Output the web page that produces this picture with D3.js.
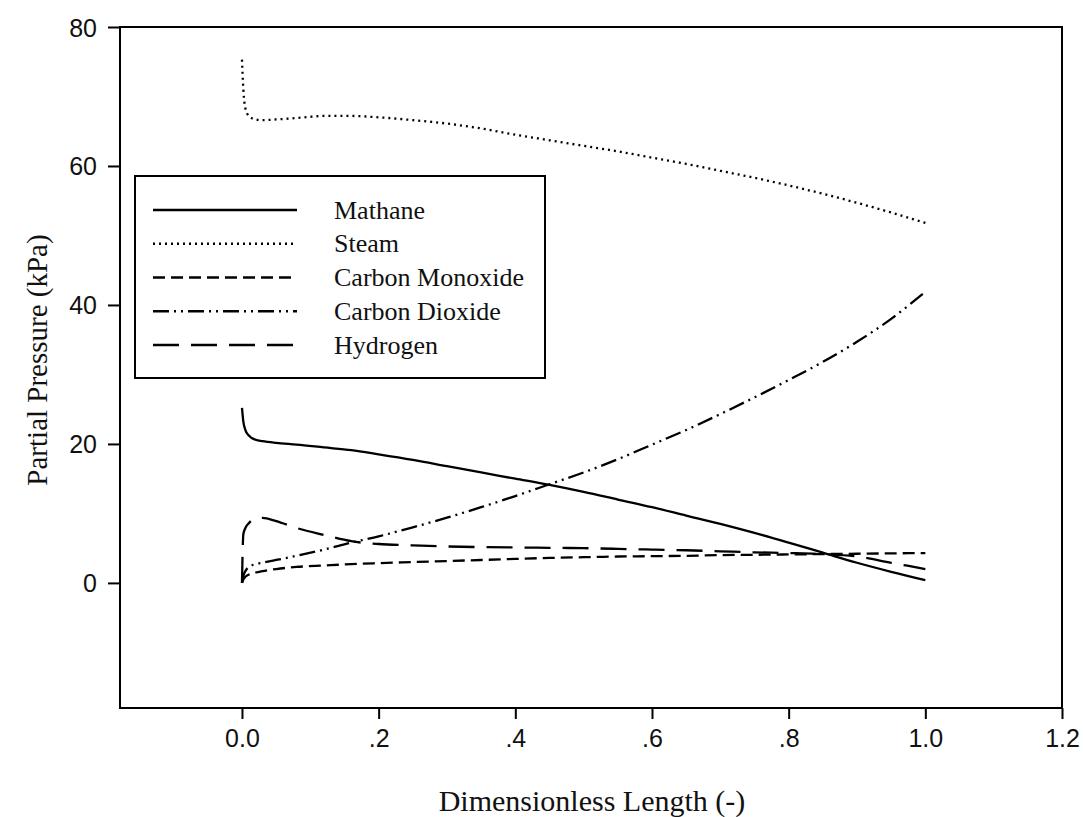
<!DOCTYPE html>
<html>
<head>
<meta charset="utf-8">
<script src="https://cdn.jsdelivr.net/npm/d3@7"></script>
<style>
  html, body { margin: 0; padding: 0; background: #fff; }
  svg { display: block; }
</style>
</head>
<body>
<svg id="chart" width="1083" height="817"></svg>
<script>
// Axial positions along the reactor (dimensionless)
const positions = [0, 0.002, 0.005, 0.01, 0.02, 0.03, 0.05, 0.08, 0.12, 0.16, 0.2, 0.25, 0.3, 0.35,
  0.4, 0.45, 0.5, 0.55, 0.6, 0.65, 0.7, 0.75, 0.8, 0.85, 0.9, 0.95, 1.0];

// Partial pressures (kPa) at each position
const methane = [25.2, 23.2, 22.0, 21.2, 20.6, 20.4, 20.15, 19.9, 19.5, 19.1, 18.5, 17.7, 16.8, 15.9,
  15.0, 14.1, 13.1, 12.0, 10.9, 9.7, 8.5, 7.2, 5.8, 4.35, 2.9, 1.6, 0.4];
const steam = [75.3, 71.0, 68.3, 67.2, 66.7, 66.6, 66.7, 66.9, 67.2, 67.2, 67.0, 66.6, 66.1, 65.4,
  64.5, 63.7, 62.9, 62.1, 61.2, 60.3, 59.3, 58.3, 57.2, 56.0, 54.7, 53.3, 51.8];
const carbonMonoxide = [0, 0.5, 0.9, 1.2, 1.5, 1.7, 2.0, 2.3, 2.5, 2.7, 2.85, 3.0, 3.15, 3.3,
  3.45, 3.6, 3.7, 3.8, 3.85, 3.9, 4.0, 4.05, 4.1, 4.15, 4.2, 4.25, 4.3];
const carbonDioxide = [0, 1.0, 1.7, 2.3, 2.7, 2.9, 3.3, 3.9, 4.8, 5.8, 6.7, 8.0, 9.4, 10.9,
  12.5, 14.2, 15.9, 17.8, 19.9, 22.0, 24.3, 26.7, 29.2, 31.8, 34.7, 38.0, 41.9];
const hydrogen = [0, 7.0, 7.9, 8.6, 9.3, 9.35, 8.9, 7.9, 6.9, 6.0, 5.6, 5.4, 5.25, 5.15,
  5.1, 5.05, 5.0, 4.9, 4.8, 4.7, 4.55, 4.4, 4.3, 4.15, 3.8, 2.9, 2.0];

const seriesNames = ["Mathane", "Steam", "Carbon Monoxide", "Carbon Dioxide", "Hydrogen"];
const seriesValues = [methane, steam, carbonMonoxide, carbonDioxide, hydrogen];
const seriesDash = [null, "2,4", "12,6", "16,5,2,5,2,5", "26,12"];

// Axis ticks
const xTicks = [0, 0.2, 0.4, 0.6, 0.8, 1.0, 1.2];
const xTickLabels = ["0.0", ".2", ".4", ".6", ".8", "1.0", "1.2"];
const yTicks = [0, 20, 40, 60, 80];
const yTickLabels = ["0", "20", "40", "60", "80"];

const svg = d3.select("#chart");
const plot = { left: 120, right: 1062, top: 27, bottom: 708 };

const x = d3.scaleLinear().domain([-0.1785, 1.2]).range([plot.left, plot.right]);
const y = d3.scaleLinear().domain([-18, 80]).range([plot.bottom, plot.top]);

// Frame around the plotting area
svg.append("rect")
  .attr("x", plot.left).attr("y", plot.top)
  .attr("width", plot.right - plot.left).attr("height", plot.bottom - plot.top)
  .attr("fill", "none").attr("stroke", "#000").attr("stroke-width", 2);

// Axes (outward ticks)
const xAxis = d3.axisBottom(x).tickValues(xTicks)
  .tickFormat((d, i) => xTickLabels[i]).tickSize(11).tickPadding(10);
const yAxis = d3.axisLeft(y).tickValues(yTicks)
  .tickFormat((d, i) => yTickLabels[i]).tickSize(12).tickPadding(11);

const gx = svg.append("g").attr("transform", `translate(0,${plot.bottom})`).call(xAxis);
const gy = svg.append("g").attr("transform", `translate(${plot.left},0)`).call(yAxis);
[gx, gy].forEach(g => {
  g.select(".domain").remove();
  g.selectAll(".tick line").attr("stroke", "#000").attr("stroke-width", 2);
  g.selectAll(".tick text")
    .attr("fill", "#111")
    .style("font-family", "'Liberation Sans', Arial, sans-serif")
    .style("font-size", "25px");
});
gy.selectAll(".tick text").attr("dy", "0.36em");

// Series lines
const line = d3.line()
  .x((d, i) => x(positions[i]))
  .y(d => y(d))
  .curve(d3.curveMonotoneX);

seriesValues.forEach((vals, k) => {
  svg.append("path")
    .datum(vals)
    .attr("d", line)
    .attr("fill", "none")
    .attr("stroke", "#000")
    .attr("stroke-width", 2.3)
    .attr("stroke-dasharray", seriesDash[k]);
});

// Axis titles
svg.append("text")
  .attr("x", 592).attr("y", 811)
  .attr("text-anchor", "middle")
  .style("font-family", "'Liberation Serif', 'Times New Roman', serif")
  .style("font-size", "30px")
  .attr("fill", "#111")
  .text("Dimensionless Length (-)");

svg.append("text")
  .attr("transform", "translate(47,360) rotate(-90)")
  .attr("text-anchor", "middle")
  .style("font-family", "'Liberation Serif', 'Times New Roman', serif")
  .style("font-size", "29px")
  .attr("fill", "#111")
  .text("Partial Pressure (kPa)");

// Legend
const legend = svg.append("g");
legend.append("rect")
  .attr("x", 135).attr("y", 176).attr("width", 410).attr("height", 202)
  .attr("fill", "#fff").attr("stroke", "#000").attr("stroke-width", 2);

const legendRow = d3.scaleLinear().domain([0, 4]).range([210, 345]);
seriesNames.forEach((name, k) => {
  const ly = legendRow(k);
  legend.append("line")
    .attr("x1", 153).attr("x2", 297).attr("y1", ly).attr("y2", ly)
    .attr("stroke", "#000").attr("stroke-width", 2.3)
    .attr("stroke-dasharray", seriesDash[k]);
  legend.append("text")
    .attr("x", 334).attr("y", ly + 8.5)
    .style("font-family", "'Liberation Serif', 'Times New Roman', serif")
    .style("font-size", "26px")
    .attr("fill", "#111")
    .text(name);
});
</script>
</body>
</html>
